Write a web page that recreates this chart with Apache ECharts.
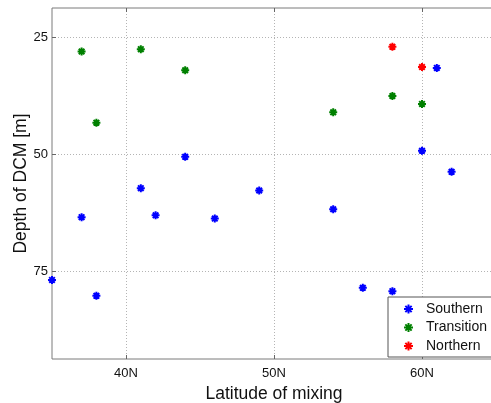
<!DOCTYPE html>
<html>
<head>
<meta charset="utf-8">
<script src="https://cdn.jsdelivr.net/npm/echarts@6/dist/echarts.min.js"></script>
<style>
  html, body { margin: 0; padding: 0; background: #fff; }
  #main { width: 491px; height: 403px; }
</style>
</head>
<body>
<div id="main"></div>
<script>
// latitude (deg N), depth of DCM (m)
const southernLat = [35, 37, 38, 41, 42, 44, 46, 49, 54, 56, 58, 60, 61, 62]
const southernDepth = [76.8, 63.4, 80.2, 57.2, 63.0, 50.5, 63.7, 57.7, 61.7, 78.5, 79.2, 49.2, 31.5, 53.7]
const transitionLat = [37, 38, 41, 44, 54, 58, 60]
const transitionDepth = [28.0, 43.2, 27.5, 32.0, 41.0, 37.5, 39.2]
const northernLat = [58, 60]
const northernDepth = [27.0, 31.3]
const latTicks = [40, 50, 60]
const depthTicks = [25, 50, 75]

const pairs = (xs, ys) => xs.map((x, i) => [x, ys[i]])

// matlab style '*' marker
const star = 'path://M0,-5L0,5M-5,0L5,0M-3.5,-3.5L3.5,3.5M-3.5,3.5L3.5,-3.5'

function mk (name, color, data) {
  return {
    name: name,
    type: 'scatter',
    data: data,
    symbol: star,
    symbolSize: 8,
    itemStyle: { color: color, borderColor: color, borderWidth: 2, opacity: 1 }
  }
}

const gridLine = { show: true, lineStyle: { color: '#b4b4b4', type: [1, 2], width: 1 } }
const tickStyle = { show: true, inside: true, length: 4, lineStyle: { color: '#666' } }

const chart = echarts.init(document.getElementById('main'))
chart.setOption({
  animation: false,
  textStyle: { fontFamily: 'Liberation Sans, Arial, sans-serif' },
  grid: {
    left: 52, top: 8, width: 444, height: 351,
    outerBoundsMode: 'none',
    containLabel: false,
    show: true, borderColor: '#7a7a7a', borderWidth: 1
  },
  xAxis: [
    {
      type: 'value',
      min: 35,
      max: 65,
      name: 'Latitude of mixing',
      nameLocation: 'middle',
      nameGap: 26,
      nameTextStyle: { fontSize: 17.5, color: '#111' },
      axisLine: { show: false },
      axisTick: Object.assign({ customValues: latTicks }, tickStyle),
      axisLabel: {
        customValues: latTicks,
        fontSize: 13,
        color: '#111',
        margin: 8,
        formatter: v => v + 'N'
      },
      splitLine: gridLine
    },
    {
      type: 'value',
      position: 'top',
      min: 35,
      max: 65,
      axisLine: { show: false },
      axisTick: Object.assign({ customValues: latTicks }, tickStyle),
      axisLabel: { show: false },
      splitLine: { show: false }
    }
  ],
  yAxis: {
    type: 'value',
    inverse: true,
    min: 18.7,
    max: 93.7,
    name: 'Depth of DCM [m]',
    nameLocation: 'middle',
    nameGap: 22,
    nameMoveOverlap: false,
    nameTextStyle: { fontSize: 17.5, color: '#111' },
    axisLine: { show: false },
    axisTick: Object.assign({ customValues: depthTicks }, tickStyle),
    axisLabel: { customValues: depthTicks, fontSize: 13, color: '#111', margin: 4 },
    splitLine: gridLine
  },
  legend: {
    orient: 'vertical',
    left: 388,
    top: 297,
    width: 110,
    padding: [5, 20, 4, 15],
    itemWidth: 25,
    itemHeight: 9,
    itemGap: 4.5,
    backgroundColor: '#fff',
    borderColor: '#555',
    borderWidth: 1,
    borderRadius: 0,
    textStyle: { fontSize: 14, color: '#111', padding: [0, 0, 0, 0], lineHeight: 14 },
    data: ['Southern', 'Transition', 'Northern']
  },
  series: [
    mk('Southern', '#0000ff', pairs(southernLat, southernDepth)),
    mk('Transition', '#008000', pairs(transitionLat, transitionDepth)),
    mk('Northern', '#ff0000', pairs(northernLat, northernDepth))
  ]
})
</script>
</body>
</html>
